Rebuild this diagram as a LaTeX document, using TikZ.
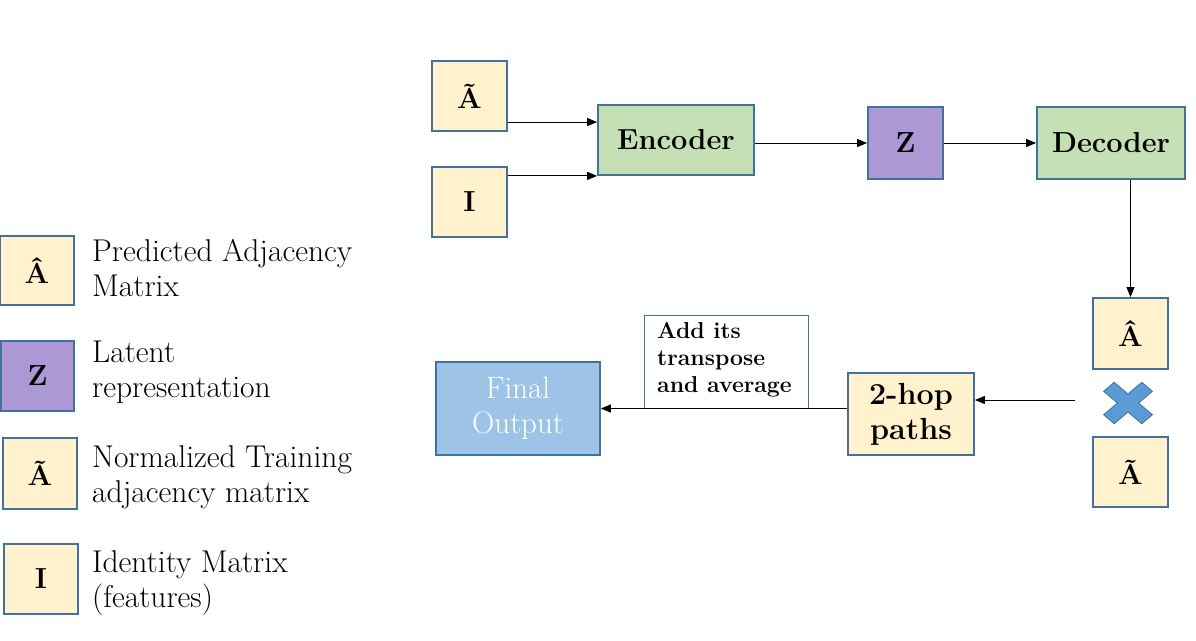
\documentclass[tikz,border=0pt]{standalone}
\usepackage{fontspec}
\usetikzlibrary{arrows.meta,calc}
\definecolor{bord}{HTML}{41719C}
\definecolor{yel}{HTML}{FFF2CC}
\definecolor{grn}{HTML}{C5E0B4}
\definecolor{prp}{RGB}{173,152,214}
\definecolor{fin}{HTML}{9DC3E6}
\definecolor{crs}{HTML}{5B9BD5}
\tikzset{
  mat/.style={draw=bord,line width=1.8pt,fill=yel,minimum width=75pt,minimum height=70pt,inner sep=0pt,font=\fontsize{29}{34}\selectfont\bfseries},
  zbox/.style={mat,fill=prp},
  blk/.style={draw=bord,line width=1.8pt,fill=grn,inner sep=0pt,font=\fontsize{29}{34}\selectfont\bfseries},
  legtxt/.style={anchor=west,align=left,inner sep=0pt,font=\fontsize{31.5}{35}\selectfont},
  arr/.style={-{Triangle[length=10pt,width=8pt]},line width=1pt,black},
}
\begin{document}
\begin{tikzpicture}[x=1pt,y=-1pt]
\useasboundingbox (0,0) rectangle (1196,640);
% main flow
\node[mat] (at) at (469.5,96) {Ã};
\node[mat] (id) at (469.5,202) {I};
\node[blk,minimum width=156pt,minimum height=70pt] (enc) at (676,140) {Encoder};
\node[zbox,minimum height=72pt] (z) at (905.5,143) {Z};
\node[blk,minimum width=148pt,minimum height=72pt] (dec) at (1111,143) {Decoder};
\node[mat,minimum height=71pt] (ah) at (1130.5,333.5) {Â};
\node[mat] (at2) at (1130.5,472) {Ã};
\node[mat,minimum width=126pt,minimum height=82pt,font=\fontsize{30.5}{35}\selectfont\bfseries,align=center] (hop) at (911,414) {2-hop\\paths};
\node[draw=bord,line width=0.8pt,fill=white,minimum width=164pt,minimum height=93pt,inner sep=0pt] (note) at (726,361.5) {};
\node[anchor=north west,align=left,inner sep=0pt,font=\fontsize{23}{27}\selectfont\bfseries] (notetxt) at (657,322) {Add its\\transpose\\and average};
\node[draw=bord,line width=1.8pt,fill=fin,minimum width=164pt,minimum height=93pt,inner sep=0pt,text=white,align=center,font=\fontsize{31}{35}\selectfont] (fo) at (518,408.5) {Final\\Output};
% cross
\begin{scope}[shift={(1128,403)},yscale=0.85,rotate=45]
\fill[crs,draw=bord,line width=0.8pt] (7.5,27)--(7.5,7.5)--(27,7.5)--(27,-7.5)--(7.5,-7.5)--(7.5,-27)--(-7.5,-27)--(-7.5,-7.5)--(-27,-7.5)--(-27,7.5)--(-7.5,7.5)--(-7.5,27)--cycle;
\end{scope}
\coordinate (cx) at (1075,400);
% connectors
\coordinate (encin) at ($(enc.north west)!0.25!(enc.south west)$);
\draw[arr] (at.east |- encin) -- (encin);
\draw[arr] (id.east |- enc.south west) -- (enc.south west);
\draw[arr] (enc.east |- z.west) -- (z.west);
\draw[arr] (z.east) -- (dec.west);
\draw[arr] (dec.south -| ah.north) -- (ah.north);
\draw[arr] (cx) -- (hop.east |- cx);
\draw[arr] (hop.west |- fo.east) -- (fo.east);
% legend
\node[mat,minimum width=74pt,minimum height=69pt] (l1) at (37,270.5) {Â};
\node[zbox,minimum width=73pt] (l2) at (37.5,376) {Z};
\node[mat,minimum width=74pt,minimum height=71pt] (l3) at (40,473.5) {Ã};
\node[mat,minimum width=74pt] (l4) at (41,579) {I};
\node[legtxt] (t1) at (92,267.5) {Predicted Adjacency\\Matrix};
\node[legtxt] (t2) at (92,372.5) {Latent\\representation};
\node[legtxt] (t3) at (92,477.5) {Normalized Training\\adjacency matrix};
\node[legtxt] (t4) at (92,582.5) {Identity Matrix\\(features)};
\end{tikzpicture}
\end{document}
